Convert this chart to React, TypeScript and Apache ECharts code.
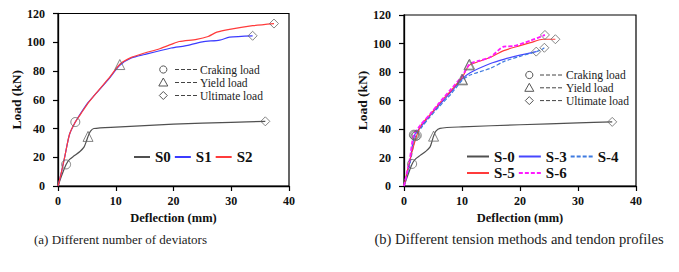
import React, { useEffect, useRef } from "react";
import * as echarts from "echarts";

// ---------- Data ----------
// (a) Different number of deviators
const s0: number[][] = [[0, 0], [0.7, 8], [1.4, 15], [2, 18.5], [2.8, 21], [3.8, 24], [4.5, 27], [4.9, 31], [5.2, 34.5], [5.6, 38], [6.2, 40], [10, 41], [20, 43], [30, 44.3], [35.9, 45]];
const s1: number[][] = [[0, 0], [0.5, 8], [1.2, 21], [2, 36], [3, 44.5], [4, 51], [5, 57], [6.4, 63.5], [8.7, 74], [10.7, 84], [12.7, 89], [15, 91.5], [19.6, 96], [22, 97.5], [25, 100.3], [28, 101.5], [29.7, 103.5], [33.7, 104.5]];
const s2: number[][] = [[0, 0], [0.5, 8], [1.2, 21], [2, 36], [3, 44.5], [4, 50.5], [5, 56.5], [6.4, 63.5], [8.7, 74.5], [10.8, 85], [12.7, 89.5], [15, 92.5], [17.6, 95.5], [19.6, 98.5], [21, 100.5], [24, 102], [26, 104], [27.5, 107], [29.7, 109], [33.7, 111.5], [37.4, 113]];
const crackA: number[][] = [[1.4, 15], [3.0, 44.5]];
const yieldA: number[][] = [[5.2, 34.5], [10.7, 84.5]];
const ultA: number[][] = [[35.9, 45], [33.7, 104.5], [37.4, 113]];

// (b) Different tension methods and tendon profiles
const sB0: number[][] = [[0, 0], [0.7, 8], [1.4, 15.5], [2, 19], [2.8, 21.5], [3.8, 24.5], [4.5, 27.5], [4.8, 31], [5.1, 35], [5.5, 38.5], [6.2, 40.5], [10, 41.5], [20, 43], [30, 44.3], [35.9, 45]];
const sB3: number[][] = [[0, 0], [1, 16.5], [1.8, 35.5], [3, 42], [4.5, 49.5], [6, 56.5], [8, 65.5], [10, 75], [11.4, 79.5], [14.9, 86], [17.2, 88.9], [20, 91.8], [22.8, 94.3]];
const sB4: number[][] = [[0, 0], [1, 15], [2.0, 35], [3, 41], [4.5, 48.5], [6, 55.5], [8, 64], [10.1, 74.5], [11.4, 77.9], [14.9, 82.6], [17.2, 87.3], [20, 91], [23.5, 95.2], [24.2, 97]];
const sB5: number[][] = [[0, 0], [1, 18], [2.2, 35.5], [3, 43], [4.5, 50], [6, 57.5], [8, 66.5], [10, 76], [11.2, 84.5], [13, 87.5], [14.9, 90.3], [17.2, 95], [20, 98.5], [21.8, 100.6], [24, 103], [26.1, 103]];
const sB6: number[][] = [[0, 0], [1, 19], [1.7, 36], [3, 43.5], [4.5, 50.5], [6, 58], [8, 67.5], [10, 77], [11.3, 85.5], [13, 88], [14.9, 90.5], [17.2, 97.8], [18.9, 98.2], [21.8, 102], [24.3, 106]];
const crackB: number[][] = [[1.4, 15.5], [1.8, 35.5], [2.0, 35], [2.2, 35.5], [1.7, 36]];
const yieldB: number[][] = [[5.1, 35], [10.0, 75], [10.1, 74.5], [11.2, 85], [11.3, 85.5]];
const ultB: number[][] = [[35.9, 45], [22.8, 94.3], [24.2, 97], [26.1, 103], [24.3, 106]];

const xTicks = { min: 0, max: 40, interval: 10 };
const yTicks = { min: 0, max: 120, interval: 20 };
const markerLabels = ["Craking load", "Yield load", "Ultimate load"];
const captionA = "(a) Different number of deviators";
const captionB = "(b) Different tension methods and tendon profiles";

const FONT = "Liberation Serif, Times New Roman, Times, serif";

function axisPair(gridIndex: number) {
  const common = {
    gridIndex,
    type: "value" as const,
    splitLine: { show: false },
    axisLine: { show: true, lineStyle: { color: "#000", width: 1.3 } },
    axisTick: { show: true, inside: false, length: 5, lineStyle: { color: "#000", width: 1.2 } },
    nameLocation: "middle" as const,
    nameTextStyle: { fontFamily: FONT, fontWeight: "bold", color: "#111" },
  };
  const x = {
    ...common,
    ...xTicks,
    name: "Deflection (mm)",
    nameGap: 22,
    nameTextStyle: { ...common.nameTextStyle, fontSize: 12.5 },
    axisLabel: { fontFamily: FONT, fontWeight: "bold", fontSize: 12, color: "#111", margin: 9 },
  };
  const y = {
    ...common,
    ...yTicks,
    name: "Load (kN)",
    nameGap: 30,
    nameTextStyle: { ...common.nameTextStyle, fontSize: 13.5 },
    axisLabel: { fontFamily: FONT, fontWeight: "bold", fontSize: 12, color: "#111", margin: 13 },
  };
  return { x, y };
}

function lineSeries(name: string, data: number[][], idx: number, color: string, type: string = "solid", width = 1.2) {
  return {
    type: "line",
    name,
    data,
    xAxisIndex: idx,
    yAxisIndex: idx,
    showSymbol: false,
    symbol: "none",
    smooth: 0.25,
    lineStyle: { color, width, type: type === "dashed" ? [4, 2] : "solid" },
    itemStyle: { color },
    z: 2,
  };
}

function markerSeries(name: string, data: number[][], idx: number, symbol: string) {
  return {
    type: "scatter",
    name,
    data,
    xAxisIndex: idx,
    yAxisIndex: idx,
    symbol,
    symbolSize: symbol === "triangle" ? 10 : 9,
    itemStyle: { color: "rgba(0,0,0,0)", borderColor: "#666", borderWidth: 1 },
    z: 5,
  };
}

function annoLegend(mx: number, y0: number, dy: number, dx1: number, dx2: number, tx: number) {
  const els: any[] = [];
  const stroke = { fill: "none", stroke: "#555", lineWidth: 1 };
  markerLabels.forEach((label, i) => {
    const cy = y0 + i * dy;
    if (i === 0) {
      els.push({ type: "circle", shape: { cx: mx, cy, r: 3.6 }, style: stroke });
    } else if (i === 1) {
      els.push({ type: "polygon", shape: { points: [[mx, cy - 4.5], [mx - 4.5, cy + 3.5], [mx + 4.5, cy + 3.5]] }, style: stroke });
    } else {
      els.push({ type: "polygon", shape: { points: [[mx, cy - 4], [mx + 4, cy], [mx, cy + 4], [mx - 4, cy]] }, style: stroke });
    }
    els.push({ type: "line", shape: { x1: dx1, y1: cy, x2: dx2, y2: cy }, style: { stroke: "#444", lineWidth: 1, lineDash: [4, 2] } });
    els.push({ type: "text", x: tx, y: cy, style: { text: label, fontFamily: FONT, fontSize: 11.5, fill: "#222", verticalAlign: "middle", align: "left" } });
  });
  return els;
}

export default function App() {
  const ref = useRef<HTMLDivElement>(null);
  useEffect(() => {
    document.body.style.margin = "0";
    if (!ref.current) return;
    const chart = echarts.init(ref.current, null, { renderer: "svg" });
    const a = axisPair(0);
    const b = axisPair(1);
    const legendText = { fontFamily: FONT, fontWeight: "bold", fontSize: 15, color: "#111" };
    const legendCommon = { padding: 0, itemHeight: 14, itemGap: 3, textStyle: legendText, itemStyle: { opacity: 0 } };
    chart.setOption({
      animation: false,
      backgroundColor: "#fff",
      grid: [
        { left: 58, top: 13.5, width: 231, height: 172.5, show: true, borderColor: "#000", borderWidth: 1.2 },
        { left: 404, top: 15, width: 232, height: 171, show: true, borderColor: "#000", borderWidth: 1.2 },
      ],
      xAxis: [a.x, b.x],
      yAxis: [a.y, b.y],
      legend: [
        { ...legendCommon, data: ["S0", "S1", "S2"], left: 133, top: 149.5, itemWidth: 16 },
        { ...legendCommon, data: ["S-0", "S-3", "S-4"], left: 466, top: 149, itemWidth: 22 },
        { ...legendCommon, data: ["S-5", "S-6"], left: 466, top: 165.5, itemWidth: 22 },
      ],
      series: [
        lineSeries("S0", s0, 0, "#505050"),
        lineSeries("S1", s1, 0, "#3b3bff"),
        lineSeries("S2", s2, 0, "#ff3b3b"),
        markerSeries("Craking load", crackA, 0, "circle"),
        markerSeries("Yield load", yieldA, 0, "triangle"),
        markerSeries("Ultimate load", ultA, 0, "diamond"),
        lineSeries("S-0", sB0, 1, "#505050"),
        lineSeries("S-3", sB3, 1, "#4646ff"),
        lineSeries("S-4", sB4, 1, "#3f7be0", "dashed"),
        lineSeries("S-5", sB5, 1, "#ff3b3b"),
        lineSeries("S-6", sB6, 1, "#ff1aff", "dashed", 1.8),
        markerSeries("Craking load", crackB, 1, "circle"),
        markerSeries("Yield load", yieldB, 1, "triangle"),
        markerSeries("Ultimate load", ultB, 1, "diamond"),
      ],
      graphic: [
        ...annoLegend(163.3, 69.5, 13, 175, 197, 200),
        ...annoLegend(529.3, 75, 12.8, 540, 562, 566),
        { type: "text", x: 120.5, y: 239, style: { text: captionA, fontFamily: FONT, fontSize: 13, fill: "#222", align: "center", verticalAlign: "middle" } },
        { type: "text", x: 519, y: 239, style: { text: captionB, fontFamily: FONT, fontSize: 14.6, fill: "#222", align: "center", verticalAlign: "middle" } },
      ],
    });
    return () => chart.dispose();
  }, []);
  return <div ref={ref} style={{ width: 679, height: 272 }} />;
}
